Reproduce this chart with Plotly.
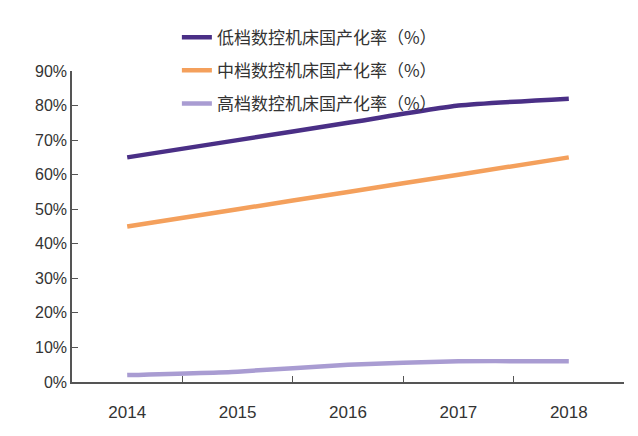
import plotly.graph_objects as go

years = ["2014", "2015", "2016", "2017", "2018"]
low = [65, 70, 75, 80, 82]
mid = [45, 50, 55, 60, 65]
high = [2, 3, 5, 6, 6]
names = ["低档数控机床国产化率（%）", "中档数控机床国产化率（%）", "高档数控机床国产化率（%）"]
colors = ["#4a2f86", "#f4a05c", "#a99cd2"]

fig = go.Figure()
for i, (vals, n, c) in enumerate(zip([low, mid, high], names, colors)):
    fig.add_trace(go.Scatter(x=years, y=vals, name=n, mode="lines",
                             line=dict(color=c, width=4.5, shape="spline", smoothing=0.5),
                             legendgroup=str(i)))

fig.update_layout(
    width=638, height=436, margin=dict(l=64, r=22, t=57, b=62),
    plot_bgcolor="white", paper_bgcolor="white",
    font=dict(family="Noto Sans CJK SC", size=15, color="#333"),
    legend=dict(x=0.19, y=1.165, xanchor="left", yanchor="top", bgcolor="rgba(0,0,0,0)",
                tracegroupgap=8, font=dict(size=17)),
    xaxis=dict(type="category", range=[-0.5, 4.5], showline=True, linecolor="#555", linewidth=1.5,
               ticks="inside", ticklen=6, tickcolor="#555", tickson="boundaries",
               ticklabelstandoff=14,
               showgrid=False, tickfont=dict(size=17, family="Liberation Sans", color="#333")),
    yaxis=dict(range=[0, 90], dtick=10, ticksuffix="%", showline=True, linecolor="#555", linewidth=1.5,
               ticks="inside", ticklen=6, tickcolor="#555", showgrid=False, zeroline=False,
               tickfont=dict(size=16, family="Liberation Sans", color="#333")),
)
fig.write_html("out.html")
